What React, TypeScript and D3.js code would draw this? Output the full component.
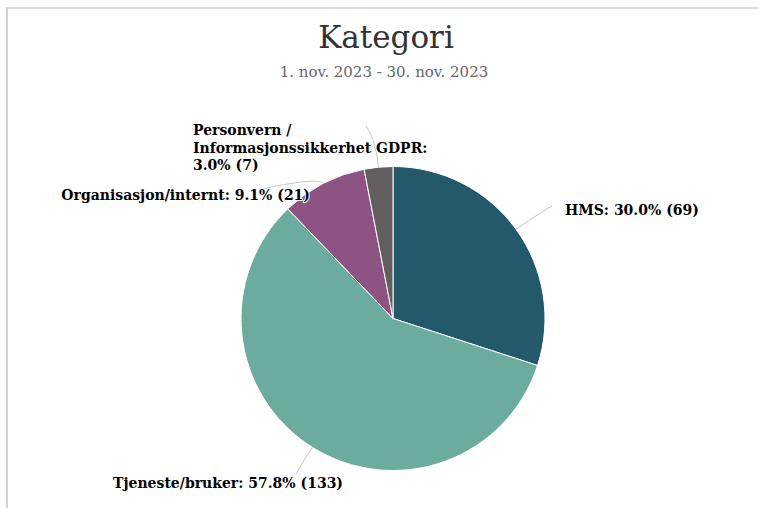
import React from "react";
import * as d3 from "d3";

const categories = ["HMS", "Tjeneste/bruker", "Organisasjon/internt", "Personvern / Informasjonssikkerhet GDPR"];
const values = [69, 133, 21, 7];
const colors = ["#24596c", "#6cac9f", "#8d5383", "#625e5f"];
const title = "Kategori";
const subtitle = "1. nov. 2023 - 30. nov. 2023";

// label layout (text anchors and connector end points)
const labelLayout = [
  { x: 565, y: 215, anchor: "start", lines: null as string[] | null, end: [552, 206], elbow: 14 },
  { x: 343, y: 488, anchor: "end", lines: null, end: [296, 474], elbow: 12 },
  { x: 310, y: 200, anchor: "end", lines: null, end: [258, 190], elbow: 8 },
  { x: 193, y: 135, anchor: "start", lines: ["Personvern /", "Informasjonssikkerhet GDPR:"], end: [366, 126], elbow: 28 },
];

const W = 758, H = 508;
const cx = 393, cy = 318.5, R = 152;

export default function App() {
  const total = d3.sum(values);
  const pie = d3.pie<number>().sort(null).value((d) => d).startAngle(0).endAngle(2 * Math.PI);
  const arcs = pie(values);
  const arcGen = d3.arc<d3.PieArcDatum<number>>().innerRadius(0).outerRadius(R);
  const fmt = (v: number) => `${((v / total) * 100).toFixed(1)}% (${v})`;
  const font = "'DejaVu Serif', serif";

  return (
    <svg width={W} height={H} style={{ position: "absolute", left: 0, top: 0, background: "#fff" }}>
      <path d={`M 7 ${H + 10} V 8 H ${W + 10}`} fill="none" stroke="#cacaca" strokeWidth={1.6} />
      <text x={386} y={48} textAnchor="middle" fontFamily={font} fontSize={31} fill="#333">{title}</text>
      <text x={384} y={77} textAnchor="middle" fontFamily={font} fontSize={15} fill="#666">{subtitle}</text>
      <g transform={`translate(${cx},${cy})`}>
        {arcs.map((a, i) => (
          <path key={i} d={arcGen(a) || ""} fill={colors[i]} stroke="#fff" strokeWidth={1} strokeLinejoin="round" />
        ))}
      </g>
      {arcs.map((a, i) => {
        const mid = (a.startAngle + a.endAngle) / 2;
        const dx = Math.sin(mid), dy = -Math.cos(mid);
        const ex = cx + dx * R, ey = cy + dy * R;
        const L = labelLayout[i];
        const ox = cx + dx * (R + L.elbow), oy = cy + dy * (R + L.elbow);
        const [tx, ty] = L.end;
        const d = `M ${ex} ${ey} Q ${ox} ${oy} ${tx} ${ty}`;
        return <path key={i} d={d} fill="none" stroke="#c8c8c8" strokeWidth={1} />;
      })}
      {arcs.map((a, i) => {
        const L = labelLayout[i];
        const common = {
          fontFamily: font,
          fontSize: 14,
          fontWeight: 700,
          fill: "#000",
          stroke: "#fff",
          strokeWidth: 2,
          strokeLinejoin: "round" as const,
          paintOrder: "stroke",
        };
        if (L.lines) {
          const all = [...L.lines, fmt(values[i])];
          return (
            <text key={i} x={L.x} y={L.y} textAnchor={L.anchor as any} {...common}>
              {all.map((t, j) => (
                <tspan key={j} x={L.x} dy={j === 0 ? 0 : 17.5}>{t}</tspan>
              ))}
            </text>
          );
        }
        return (
          <text key={i} x={L.x} y={L.y} textAnchor={L.anchor as any} {...common}>
            {`${categories[i]}: ${fmt(values[i])}`}
          </text>
        );
      })}
    </svg>
  );
}
